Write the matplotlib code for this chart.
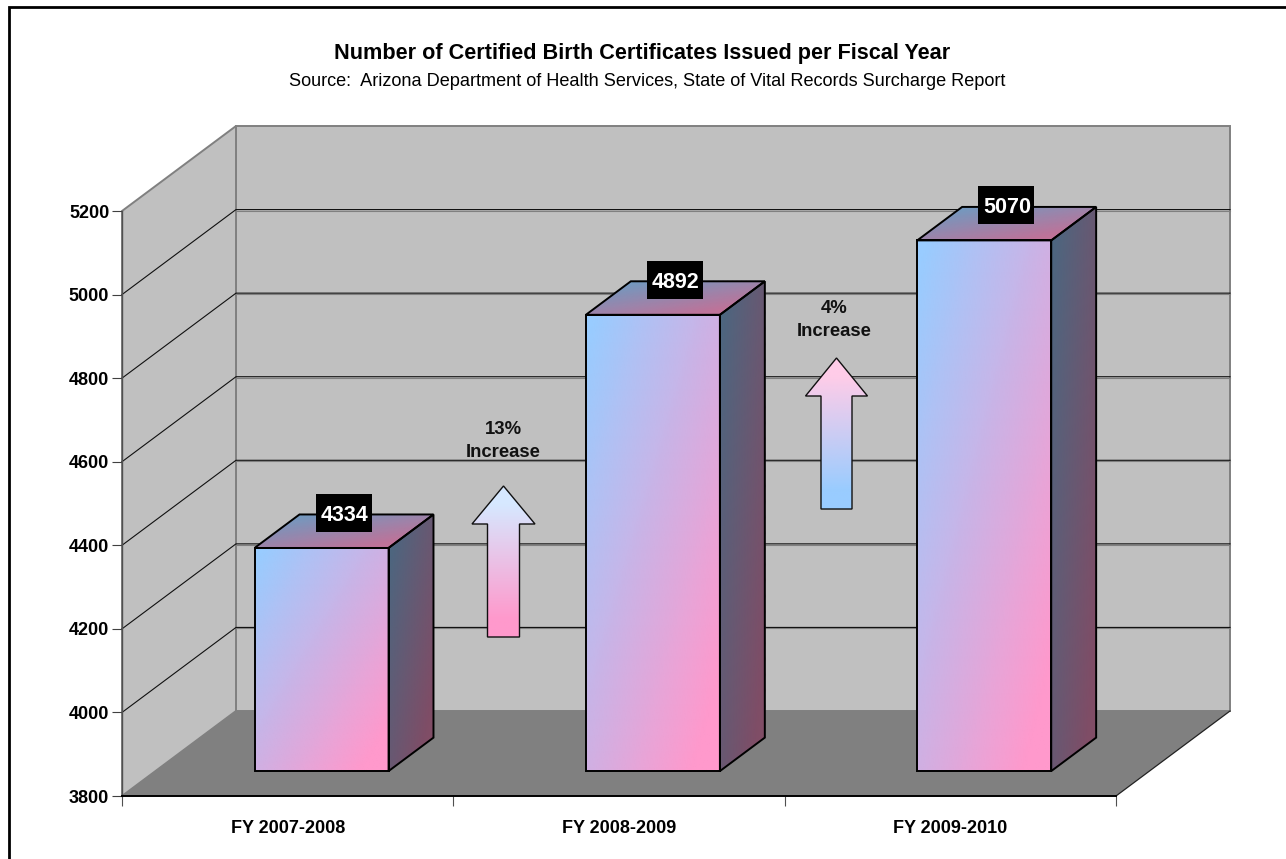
import numpy as np
import matplotlib
matplotlib.use("Agg")
import matplotlib.pyplot as plt
from matplotlib.colors import LinearSegmentedColormap
from matplotlib.patches import Polygon, Rectangle

plt.rcParams['font.family'] = ['Liberation Sans', 'DejaVu Sans']

# data
categories = ['FY 2007-2008', 'FY 2008-2009', 'FY 2009-2010']
certificates = [4334, 4892, 5070]
y_ticks = [3800, 4000, 4200, 4400, 4600, 4800, 5000, 5200]
title = 'Number of Certified Birth Certificates Issued per Fiscal Year'
source = 'Source:  Arizona Department of Health Services, State of Vital Records Surcharge Report'
increase_labels = ['13%\nIncrease', '4%\nIncrease']

W, H = 1286, 859
BLUE = (153 / 255, 204 / 255, 1.0)
PINK = (1.0, 153 / 255, 204 / 255)

fig = plt.figure(figsize=(W / 100, H / 100), dpi=100, facecolor='white')
ax = fig.add_axes([122 / W, 1 - 796 / H, 994 / W, 585 / H])
ax.set_xlim(0, len(categories))
ax.set_ylim(y_ticks[0], y_ticks[-1])
ax.patch.set_visible(False)
ax.set_autoscale_on(False)

# size of one pixel in data units, and the vector of the 3d depth
PX = len(categories) / 994
PY = (y_ticks[-1] - y_ticks[0]) / 585
DX = 114 * PX
DY = 85 * PY


def pt(x, y, d=0.0):
    return (x + d * DX, y + d * DY)


def poly(points, **kw):
    p = Polygon(points, closed=True, clip_on=False, **kw)
    ax.add_patch(p)
    return p


def gradient_face(p00, p10, p01, shade, z):
    # p00 = blue corner, p10 = along u, p01 = along v
    u, v = np.meshgrid(np.linspace(0, 1, 30), np.linspace(0, 1, 30))
    a, b, c = np.array(p00), np.array(p10), np.array(p01)
    xx = a[0] + u * (b[0] - a[0]) + v * (c[0] - a[0])
    yy = a[1] + u * (b[1] - a[1]) + v * (c[1] - a[1])
    cmap = LinearSegmentedColormap.from_list(
        'face', [tuple(shade * k for k in BLUE), tuple(shade * k for k in PINK)])
    t = np.clip(((u + v) / 2 - 0.03) / 0.87, 0, 1)
    m = ax.pcolormesh(xx, yy, t, cmap=cmap, vmin=0, vmax=1,
                      shading='gouraud', zorder=z)
    m.set_clip_on(False)


# walls and floor
base = y_ticks[0]
top = y_ticks[-1]
n = len(categories)
EDGE = '#808080'
poly([pt(0, base, 1), pt(n, base, 1), pt(n, top, 1), pt(0, top, 1)],
     facecolor='#c0c0c0', edgecolor=EDGE, lw=1.4, zorder=1)
poly([pt(0, base), pt(0, base, 1), pt(0, top, 1), pt(0, top)],
     facecolor='#c0c0c0', edgecolor=EDGE, lw=1.4, zorder=1)
poly([pt(0, base), pt(n, base), pt(n, base, 1), pt(0, base, 1)],
     facecolor='#808080', edgecolor='none', zorder=2)
ax.plot(*zip(pt(n, base), pt(n, base, 1)), color='#222222', lw=0.9, clip_on=False, zorder=2)

# gridlines, back wall and left wall
for t in y_ticks[1:-1]:
    ax.plot(*zip(pt(0, t), pt(0, t, 1), pt(n, t, 1)), color='#101010', lw=0.8,
            clip_on=False, zorder=1.5)
    ax.plot(*zip(pt(0, t - PY, 1), pt(n, t - PY, 1)), color='#808080', lw=0.8,
            clip_on=False, zorder=1.4)

# bars
BAR_W = 134 * PX
D0 = 0.293
D1 = 0.687
for i, val in enumerate(certificates):
    x0 = i + 0.5 - BAR_W / 2 + 0.5 * PX
    x1 = x0 + BAR_W
    z = 3 + i
    # front
    gradient_face(pt(x0, val, D0), pt(x1, val, D0), pt(x0, base, D0), 1.0, z)
    # side
    gradient_face(pt(x1, val, D0), pt(x1, val, D1), pt(x1, base, D0), 0.5, z)
    # top (rear edge is the blue one)
    gradient_face(pt(x0, val, D1), pt(x1, val, D1), pt(x0, val, D0), 0.75, z)
    for face in ([pt(x0, base, D0), pt(x1, base, D0), pt(x1, val, D0), pt(x0, val, D0)],
                 [pt(x1, base, D0), pt(x1, base, D1), pt(x1, val, D1), pt(x1, val, D0)],
                 [pt(x0, val, D0), pt(x1, val, D0), pt(x1, val, D1), pt(x0, val, D1)]):
        poly(face, facecolor='none', edgecolor='black', lw=1.4, joinstyle='miter', zorder=z + 0.1)
    # value label: centred on the top face in x, on the rear edge in y
    lx = pt(i + 0.5, val, (D0 + D1) / 2)[0]
    ly = pt(i + 0.5, val, D1)[1] + 1.5 * PY
    ax.add_patch(Rectangle((lx - 28 * PX, ly - 19 * PY), 56 * PX, 38 * PY,
                           facecolor='black', edgecolor='none', clip_on=False, zorder=8))
    ax.text(lx + PX, ly, str(val), color='white', fontsize=15.5, fontweight='bold',
            ha='center', va='center_baseline', zorder=9)

# axis
for s in ['top', 'right']:
    ax.spines[s].set_visible(False)
ax.spines['left'].set_color('#505050')
ax.spines['left'].set_linewidth(1.0)
ax.spines['bottom'].set_color('black')
ax.spines['bottom'].set_linewidth(1.4)
ax.spines['left'].set_zorder(2.5)
ax.spines['bottom'].set_zorder(2.5)
ax.set_yticks(y_ticks)
ax.set_yticklabels([str(t) for t in y_ticks], fontsize=13, fontweight='bold')
ax.set_xticks(range(n + 1))
ax.set_xticklabels([])
ax.set_xticks([i + 0.5 for i in range(n)], minor=True)
ax.set_xticklabels(categories, minor=True, fontsize=13, fontweight='bold')
ax.tick_params(axis='y', length=7.2, width=0.8, color='#404040', pad=2)
ax.tick_params(axis='x', which='major', length=7.2, width=0.8, color='#505050')
ax.tick_params(axis='x', which='minor', length=0, pad=17)

# overlay in pixels for the things drawn on top of the chart
over = fig.add_axes([0, 0, 1, 1], zorder=5)
over.set_xlim(0, W)
over.set_ylim(H, 0)
over.axis('off')

# frame only shows on the top and left sides
over.plot([9, 9, W + 5], [H + 5, 7, 7], color='black', lw=2.0, solid_joinstyle='miter', clip_on=False)
over.text(642.5, 53, title, fontsize=15.6, fontweight='bold', ha='center', va='center')
over.text(647, 82, source, fontsize=13.05, ha='center', va='center')


def up_arrow(cx, y_top, y_sh, y_bot, half_head, half_body, c_top, c_bot):
    pts = [(cx, y_top), (cx + half_head, y_sh), (cx + half_body, y_sh), (cx + half_body, y_bot),
           (cx - half_body, y_bot), (cx - half_body, y_sh), (cx - half_head, y_sh)]
    p = Polygon(pts, closed=True, facecolor='none', edgecolor='#101010', lw=1.0, zorder=3,
                joinstyle='miter')
    over.add_patch(p)
    t = np.linspace(0, 1, 200)[:, None]
    stop = np.clip((t - 0.12) / 0.76, 0, 1)
    img = (1 - stop)[:, :, None] * np.array(c_top)[None, None, :] + stop[:, :, None] * np.array(c_bot)[None, None, :]
    im = over.imshow(img, extent=(cx - half_head, cx + half_head, y_bot, y_top),
                     aspect='auto', zorder=2)
    im.set_clip_path(p)
    over.set_xlim(0, W)
    over.set_ylim(H, 0)


up_arrow(503.5, 486, 524, 637, 31.5, 16, (0.84, 0.91, 1.0), PINK)
up_arrow(836.5, 358, 396, 509, 31, 15.5, (1.0, 0.80, 0.91), BLUE)
over.text(503, 441, increase_labels[0], fontsize=13.3, fontweight='bold', ha='center', va='center',
          linespacing=1.45, color='#111111')
over.text(834, 320, increase_labels[1], fontsize=13.3, fontweight='bold', ha='center', va='center',
          linespacing=1.45, color='#111111')

fig.savefig('out.png', dpi=100)
